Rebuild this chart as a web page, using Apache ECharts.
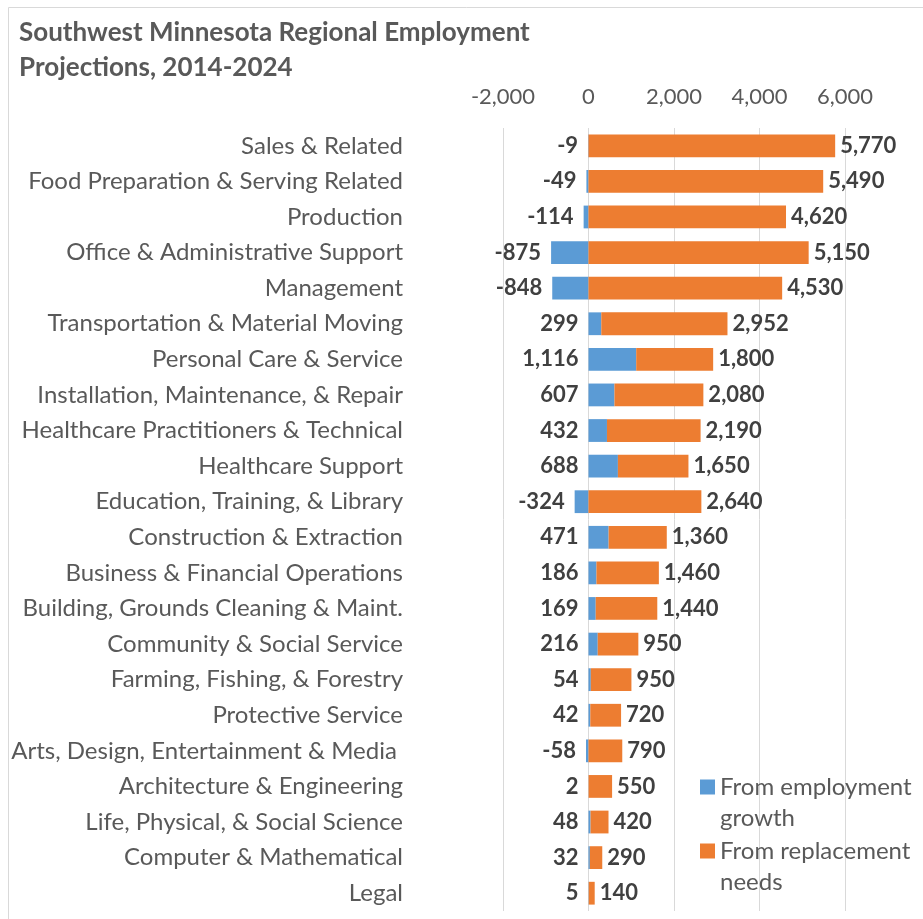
<!DOCTYPE html>
<html>
<head>
<meta charset="utf-8">
<script src="https://cdn.jsdelivr.net/npm/echarts@6/dist/echarts.min.js"></script>
<style>
  html, body { margin: 0; padding: 0; background: #fff; }
  #chart { width: 923px; height: 919px; }
</style>
</head>
<body>
<div id="chart"></div>
<script>
const categories = [
  "Sales & Related",
  "Food Preparation & Serving Related",
  "Production",
  "Office & Administrative Support",
  "Management",
  "Transportation & Material Moving",
  "Personal Care & Service",
  "Installation, Maintenance, & Repair",
  "Healthcare Practitioners & Technical",
  "Healthcare Support",
  "Education, Training, & Library",
  "Construction & Extraction",
  "Business & Financial Operations",
  "Building, Grounds Cleaning & Maint.",
  "Community & Social Service",
  "Farming, Fishing, & Forestry",
  "Protective Service",
  "Arts, Design, Entertainment & Media ",
  "Architecture & Engineering",
  "Life, Physical, & Social Science",
  "Computer & Mathematical",
  "Legal"
];
const growth = [-9, -49, -114, -875, -848, 299, 1116, 607, 432, 688, -324, 471, 186, 169, 216, 54, 42, -58, 2, 48, 32, 5];
const replacement = [5770, 5490, 4620, 5150, 4530, 2952, 1800, 2080, 2190, 1650, 2640, 1360, 1460, 1440, 950, 950, 720, 790, 550, 420, 290, 140];
const seriesNames = ["From employment growth", "From replacement needs"];
// legend text wrapped like the original; empty first line keeps the icon level with line one
const legendLines = {
  "From employment growth": "{s| }\n{t|From employment}\n{t|growth}",
  "From replacement needs": "{s| }\n{t|From replacement}\n{t|needs}"
};

const FONT = "Lato, 'Open Sans', sans-serif";
const GRAY = "#595959";
const fmt = v => v.toLocaleString("en-US");

const chart = echarts.init(document.getElementById("chart"));
chart.setOption({
  animation: false,
  title: {
    text: "Southwest Minnesota Regional Employment\nProjections, 2014-2024",
    left: 14,
    top: 10,
    textStyle: { fontFamily: FONT, fontSize: 26, fontWeight: "bold", color: GRAY, lineHeight: 35 }
  },
  graphic: [{
    type: "rect",
    shape: { x: 8.5, y: 7.5, width: 1000, height: 1000 },
    style: { fill: "none", stroke: "#d9d9d9", lineWidth: 1 },
    silent: true
  }],
  legend: {
    orient: "vertical",
    left: 700,
    top: 744,
    padding: 0,
    itemWidth: 15,
    itemHeight: 15,
    itemGap: -22,
    icon: "rect",
    formatter: name => legendLines[name],
    textStyle: {
      fontFamily: FONT, fontSize: 24, color: GRAY,
      rich: {
        s: { fontFamily: FONT, fontSize: 24, lineHeight: 31 },
        t: { fontFamily: FONT, fontSize: 24, color: GRAY, lineHeight: 31 }
      }
    }
  },
  grid: { left: 503, right: 78, top: 128, bottom: 8 },
  xAxis: {
    type: "value",
    position: "top",
    min: -2000,
    max: 6000,
    interval: 2000,
    axisLine: { show: false },
    axisTick: { show: false },
    axisLabel: { fontFamily: FONT, fontSize: 22, color: GRAY, margin: 20, formatter: v => fmt(v) },
    splitLine: { lineStyle: { color: "#d9d9d9", width: 1 } }
  },
  yAxis: {
    type: "category",
    inverse: true,
    data: categories,
    axisLine: { show: false },
    axisTick: { show: false },
    axisLabel: { fontFamily: FONT, fontSize: 24, color: GRAY, margin: 100 }
  },
  series: [
    {
      name: seriesNames[0],
      type: "bar",
      stack: "total",
      data: growth,
      barCategoryGap: "36%",
      itemStyle: { color: "#5b9bd5" },
      label: {
        show: true, position: "left", distance: 10,
        fontFamily: FONT, fontSize: 22, fontWeight: "bold", color: "#404040",
        formatter: p => fmt(p.value)
      }
    },
    {
      name: seriesNames[1],
      type: "bar",
      stack: "total",
      data: replacement,
      barCategoryGap: "36%",
      itemStyle: { color: "#ed7d31" },
      label: {
        show: true, position: "right", distance: 5,
        fontFamily: FONT, fontSize: 22, fontWeight: "bold", color: "#404040",
        formatter: p => fmt(p.value)
      }
    }
  ]
});
</script>
</body>
</html>
